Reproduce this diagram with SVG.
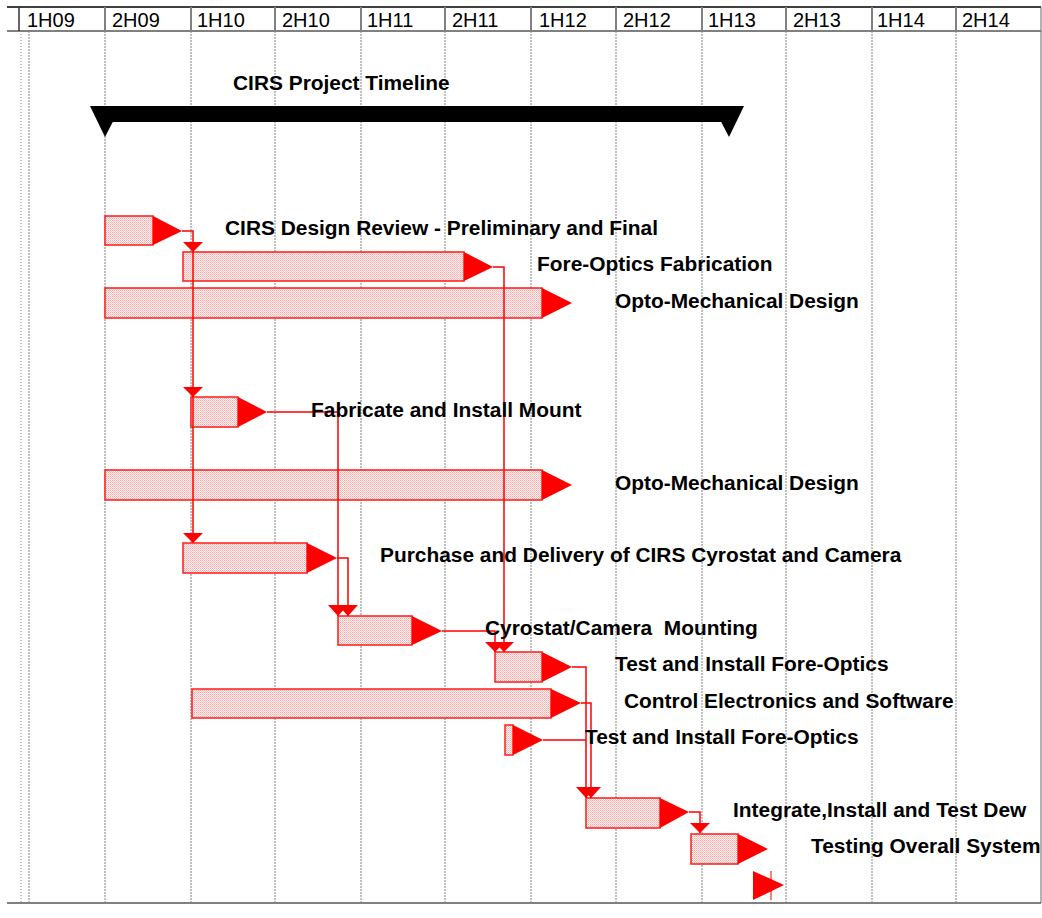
<svg xmlns="http://www.w3.org/2000/svg" width="1042" height="918" viewBox="0 0 1042 918">
<defs>
<pattern id="hatch" width="2" height="2" patternUnits="userSpaceOnUse">
<rect width="2" height="2" fill="#fff0f0"/>
<rect width="1" height="1" fill="#f7a6a6"/>
<rect x="1" y="1" width="1" height="1" fill="#fac4c4"/>
</pattern>
</defs>
<style>
.hdr{font-family:"Liberation Sans",Arial,sans-serif;font-size:20px;fill:#000}
.lbl{font-family:"Liberation Sans",Arial,sans-serif;font-size:20.9px;font-weight:bold;fill:#000}
.grid{stroke:#808080;stroke-width:1;stroke-dasharray:2 1;fill:none}
.div{stroke:#808080;stroke-width:2}
.bar{fill:url(#hatch);stroke:#ff1a1a;stroke-width:1.5}
.tri{fill:#ff0000;stroke:none}
.con{fill:none;stroke:#ff0000;stroke-width:1.5}
</style>
<rect width="1042" height="918" fill="#fff"/>
<g id="grid">
<line class="grid" x1="21" y1="31" x2="21" y2="903" style="stroke-dasharray:1 2"/>
<line class="grid" x1="29" y1="31" x2="29" y2="903"/>
<line class="grid" x1="105" y1="31" x2="105" y2="903"/>
<line class="grid" x1="191" y1="31" x2="191" y2="903"/>
<line class="grid" x1="275" y1="31" x2="275" y2="903"/>
<line class="grid" x1="361" y1="31" x2="361" y2="903"/>
<line class="grid" x1="445" y1="31" x2="445" y2="903"/>
<line class="grid" x1="531" y1="31" x2="531" y2="903"/>
<line class="grid" x1="616" y1="31" x2="616" y2="903"/>
<line class="grid" x1="702" y1="31" x2="702" y2="903"/>
<line class="grid" x1="786" y1="31" x2="786" y2="903"/>
<line class="grid" x1="872" y1="31" x2="872" y2="903"/>
<line class="grid" x1="956" y1="31" x2="956" y2="903"/>
</g>
<g id="header">
<line x1="7" y1="7" x2="1041" y2="7" stroke="#000" stroke-width="1.5"/>
<line x1="7" y1="31" x2="1041" y2="31" class="div"/>
<line x1="7" y1="903" x2="1041" y2="903" class="div"/>
<line x1="1041" y1="7" x2="1041" y2="903" stroke="#666" stroke-width="1"/>
<line x1="19" y1="7" x2="19" y2="31" stroke="#333" stroke-width="1.5"/>
<line x1="105" y1="7" x2="105" y2="31" class="div"/>
<line x1="191" y1="7" x2="191" y2="31" class="div"/>
<line x1="275" y1="7" x2="275" y2="31" class="div"/>
<line x1="361" y1="7" x2="361" y2="31" class="div"/>
<line x1="445" y1="7" x2="445" y2="31" class="div"/>
<line x1="531" y1="7" x2="531" y2="31" class="div"/>
<line x1="616" y1="7" x2="616" y2="31" class="div"/>
<line x1="702" y1="7" x2="702" y2="31" class="div"/>
<line x1="786" y1="7" x2="786" y2="31" class="div"/>
<line x1="872" y1="7" x2="872" y2="31" class="div"/>
<line x1="956" y1="7" x2="956" y2="31" class="div"/>
<text class="hdr" x="27" y="27">1H09</text>
<text class="hdr" x="112" y="27">2H09</text>
<text class="hdr" x="197" y="27">1H10</text>
<text class="hdr" x="282" y="27">2H10</text>
<text class="hdr" x="367" y="27">1H11</text>
<text class="hdr" x="452" y="27">2H11</text>
<text class="hdr" x="539" y="27">1H12</text>
<text class="hdr" x="623" y="27">2H12</text>
<text class="hdr" x="708" y="27">1H13</text>
<text class="hdr" x="793" y="27">2H13</text>
<text class="hdr" x="877" y="27">1H14</text>
<text class="hdr" x="962" y="27">2H14</text>
</g>
<g id="summary">
<rect x="105" y="106" width="624" height="16" fill="#000"/>
<polygon points="90,106 121,106 105,137" fill="#000"/>
<polygon points="713,106 744,106 729,137" fill="#000"/>
<text class="lbl" x="233" y="90">CIRS Project Timeline</text>
</g>
<g id="t1"><rect class="bar" x="105" y="216" width="48" height="29"/><polygon class="tri" points="153,216 153,245 182,231"/></g>
<g id="t2"><rect class="bar" x="183" y="252" width="281" height="29"/><polygon class="tri" points="464,252 464,281 493,267"/></g>
<g id="t3"><rect class="bar" x="105" y="288" width="437" height="30"/><polygon class="tri" points="542,288 542,318 572,303"/></g>
<g id="t4"><rect class="bar" x="191" y="397" width="47" height="30"/><polygon class="tri" points="238,397 238,427 267,412"/></g>
<g id="t5"><rect class="bar" x="105" y="470" width="437" height="30"/><polygon class="tri" points="542,470 542,500 572,485"/></g>
<g id="t6"><rect class="bar" x="183" y="543" width="124" height="30"/><polygon class="tri" points="307,543 307,573 337,558"/></g>
<g id="t7"><rect class="bar" x="338" y="616" width="74" height="29"/><polygon class="tri" points="412,616 412,645 442,631"/></g>
<g id="t8"><rect class="bar" x="495" y="652" width="47" height="30"/><polygon class="tri" points="542,652 542,682 572,667"/></g>
<g id="t9"><rect class="bar" x="192" y="689" width="359" height="29"/><polygon class="tri" points="551,689 551,718 581,703"/></g>
<g id="t10"><rect class="bar" x="505" y="725" width="8" height="30"/><polygon class="tri" points="513,725 513,755 543,740"/></g>
<g id="t11"><rect class="bar" x="586" y="798" width="74" height="30"/><polygon class="tri" points="660,798 660,828 689,812"/></g>
<g id="t12"><rect class="bar" x="691" y="834" width="47" height="30"/><polygon class="tri" points="738,834 738,864 768,849"/></g>
<g id="m1"><polygon class="tri" points="753,871 753,900 784,885"/><line x1="771" y1="871" x2="771" y2="900" stroke="#ff0000" stroke-width="1"/></g>
<g id="connectors">
<path class="con" d="M182,231 H193 V543"/>
<polygon class="tri" points="183,242 203,242 193,252"/>
<polygon class="tri" points="183,387 203,387 193,397"/>
<polygon class="tri" points="183,533 203,533 193,543"/>
<path class="con" d="M493,267 H504 V652"/>
<polygon class="tri" points="494,642 514,642 504,652"/>
<path class="con" d="M267,412 H338 V616"/>
<polygon class="tri" points="328,605 348,605 338,616"/>
<path class="con" d="M337,558 H348 V616"/>
<polygon class="tri" points="338,605 358,605 348,616"/>
<path class="con" d="M442,631 H495 V652"/>
<polygon class="tri" points="485,642 505,642 495,652"/>
<path class="con" d="M572,667 H586 V798"/>
<polygon class="tri" points="576,787 596,787 586,798"/>
<path class="con" d="M581,703 H591 V798"/>
<polygon class="tri" points="581,787 601,787 591,798"/>
<path class="con" d="M543,740 H586"/>
<path class="con" d="M689,812 H700 V833"/>
<polygon class="tri" points="690,823 710,823 700,833"/>
</g>
<g id="labels">
<text class="lbl" x="225" y="235">CIRS Design Review - Preliminary and Final</text>
<text class="lbl" x="537" y="271">Fore-Optics Fabrication</text>
<text class="lbl" x="615" y="308">Opto-Mechanical Design</text>
<text class="lbl" x="311" y="417">Fabricate and Install Mount</text>
<text class="lbl" x="615" y="490">Opto-Mechanical Design</text>
<text class="lbl" x="380" y="562">Purchase and Delivery of CIRS Cyrostat and Camera</text>
<text class="lbl" x="485" y="635" xml:space="preserve">Cyrostat/Camera  Mounting</text>
<text class="lbl" x="615" y="671">Test and Install Fore-Optics</text>
<text class="lbl" x="624" y="708">Control Electronics and Software</text>
<text class="lbl" x="585" y="744">Test and Install Fore-Optics</text>
<text class="lbl" x="733" y="817">Integrate,Install and Test Dew</text>
<text class="lbl" x="811" y="853">Testing Overall System</text>
</g>
</svg>
